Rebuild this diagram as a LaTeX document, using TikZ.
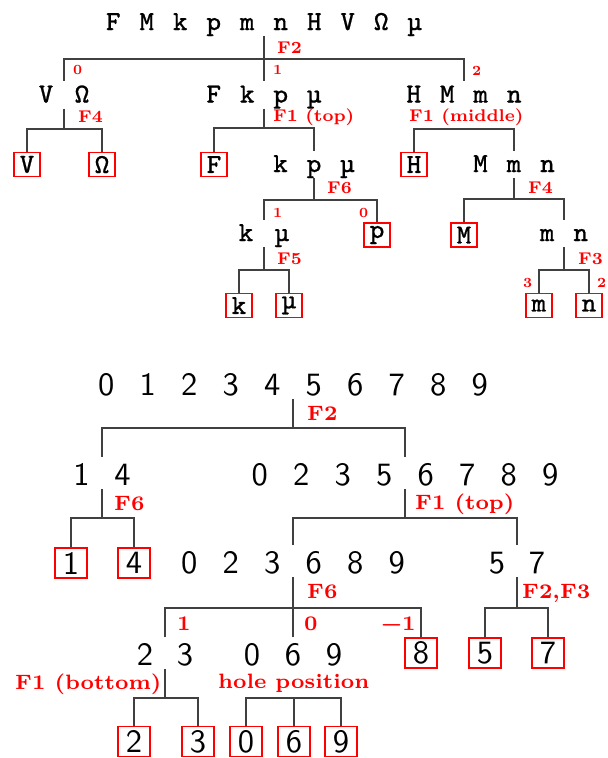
\documentclass[tikz,border=0pt]{standalone}
\usepackage{fontspec}
\newfontfamily\lbl{lmroman7-bold.otf}
\newfontfamily\ttm{lmmono8-regular.otf}[FakeBold=0.7]
\newfontfamily\ssm{lmsans10-regular.otf}
\newcommand\TC[2][33.5pt]{\makebox[#1][c]{#2}}
\newcommand\DC[2][41.5pt]{\makebox[#1][c]{#2}}
\newcommand\OM{\symbol{"2126}}
\newcommand\MU{\symbol{"00B5}}
\begin{document}
\begin{tikzpicture}[x=1pt,y=-1pt,
 rowT/.style={inner sep=0pt, anchor=base, text height=21pt, text depth=6pt, font=\ttm\fontsize{27.5}{30}\selectfont},
 rowB/.style={inner sep=0pt, anchor=base, text height=28pt, text depth=4pt, font=\ssm\fontsize{32.5}{34}\selectfont},
 leafT/.style={draw=red, line width=1.1pt, inner sep=0pt, minimum width=26pt, minimum height=24pt, font=\ttm\fontsize{27.5}{30}\selectfont},
 leafB/.style={draw=red, line width=1.1pt, inner sep=0pt, minimum width=32pt, minimum height=30pt, font=\ssm\fontsize{32.5}{34}\selectfont},
 conn/.style={draw=black!75, line width=1.3pt},
 lab/.style={text=red, inner sep=0pt, anchor=base west, font=\lbl\fontsize{17}{19}\selectfont},
 labs/.style={lab, font=\lbl\fontsize{14}{16}\selectfont},
 labB/.style={lab, font=\lbl\fontsize{20.8}{23}\selectfont},
]
\useasboundingbox (0,0) rectangle (608,758);

% ---------- top tree ----------
\node[rowT] (r) at (264,30) {\TC{F}\TC{M}\TC{k}\TC{p}\TC{m}\TC{n}\TC{H}\TC{V}\TC{\OM}\TC{\MU}};
\node[rowT] (vo) at (64,102.5) {\TC[36pt]{V}\TC[36pt]{\OM}};
\node[rowT] (fkpm) at (264,102.5) {\TC{F}\TC{k}\TC{p}\TC{\MU}};
\node[rowT] (hmmn) at (464,102.5) {\TC{H}\TC{M}\TC{m}\TC{n}};
\node[rowT] (kpm) at (314,172) {\TC{k}\TC{p}\TC{\MU}};
\node[rowT] (mmn) at (514,172) {\TC{M}\TC{m}\TC{n}};
\node[rowT] (km) at (264,241) {\TC[36pt]{k}\TC[36pt]{\MU}};
\node[rowT] (mn) at (564,241) {\TC{m}\TC{n}};

\coordinate (J0) at (264,59);
\coordinate (J1) at (64,129);
\coordinate (J2) at (264,128);
\coordinate (J3) at (464,129);
\coordinate (J4) at (314,200);
\coordinate (J5) at (514,199);
\coordinate (J6) at (264,270);
\coordinate (J7) at (564,270);

\coordinate (lVt) at (27,152.5);
\coordinate (lOt) at (102,152.5);
\coordinate (lFt) at (214,152.5);
\coordinate (lHt) at (414,152.5);
\coordinate (lpt) at (377,223);
\coordinate (lMt) at (464,223);
\coordinate (lkt) at (239,293.5);
\coordinate (lmut) at (289,293.5);
\coordinate (lmt) at (539,293.5);
\coordinate (lnt) at (589,293.5);

\draw[conn] (r.south) -- (J0) -| (vo.north);
\draw[conn] (J0) -- (fkpm.north);
\draw[conn] (J0) -| (hmmn.north);
\draw[conn] (vo.south) -- (J1) -| (lVt);
\draw[conn] (J1) -| (lOt);
\draw[conn] (fkpm.south) -- (J2) -| (lFt);
\draw[conn] (J2) -| (kpm.north);
\draw[conn] (lHt) |- (J3) -| (mmn.north);
\draw[conn] (kpm.south) -- (J4) -| (km.north);
\draw[conn] (J4) -| (lpt);
\draw[conn] (mmn.south) -- (J5) -| (lMt);
\draw[conn] (J5) -| (mn.north);
\draw[conn] (km.south) -- (J6) -| (lkt);
\draw[conn] (J6) -| (lmut);
\draw[conn] (mn.south) -- (J7) -| (lmt);
\draw[conn] (J7) -| (lnt);

\node[leafT] (lV) at (27,164.5) {V};
\node[leafT] (lO) at (102,164.5) {\OM};
\node[leafT] (lF) at (214,164.5) {F};
\node[leafT] (lH) at (414,164.5) {H};
\node[leafT] (lp) at (377,235) {p};
\node[leafT] (lM) at (464,235) {M};
\node[leafT] (lk) at (239,305.5) {k};
\node[leafT] (lmu) at (289,305.5) {\MU};
\node[leafT] (lm) at (539,305.5) {m};
\node[leafT] (ln) at (589,305.5) {n};

\node[lab] (tF2) at (277,53) {F2};
\node[labs] (te0) at (73,74.5) {0};
\node[labs] (te1) at (273,74.5) {1};
\node[labs] (te2) at (472,75.5) {2};
\node[lab] (tF4a) at (78,122) {F4};
\node[lab] (tF1t) at (273,121) {F1 (top)};
\node[lab] (tF1m) at (409,121) {F1 (middle)};
\node[lab] (tF6) at (327,193) {F6};
\node[labs] (te3) at (273,217.5) {1};
\node[labs] (te4) at (359,217.5) {0};
\node[lab] (tF4b) at (528,193) {F4};
\node[lab] (tF5) at (277,264) {F5};
\node[lab] (tF3) at (578,264) {F3};
\node[labs] (te5) at (523,287.5) {3};
\node[labs] (te6) at (597,287.5) {2};

% ---------- bottom tree ----------
\node[rowB] (R) at (293,395) {\DC{0}\DC{1}\DC{2}\DC{3}\DC{4}\DC{5}\DC{6}\DC{7}\DC{8}\DC{9}};
\node[rowB] (a14) at (102,485) {\DC[41pt]{1}\DC[41pt]{4}};
\node[rowB] (a8) at (405,485) {\DC{0}\DC{2}\DC{3}\DC{5}\DC{6}\DC{7}\DC{8}\DC{9}};
\node[rowB] (a6) at (293,573) {\DC{0}\DC{2}\DC{3}\DC{6}\DC{8}\DC{9}};
\node[rowB] (a57) at (517,573) {\DC[40pt]{5}\DC[40pt]{7}};
\node[rowB] (a23) at (165,665) {\DC[40pt]{2}\DC[40pt]{3}};
\node[rowB] (a069) at (293,665) {\DC[41pt]{0}\DC[41pt]{6}\DC[41pt]{9}};

\coordinate (K0) at (293,428);
\coordinate (K1) at (102,518);
\coordinate (K2) at (405,518);
\coordinate (K3) at (293,608);
\coordinate (K4) at (517,608);
\coordinate (K5) at (165,698);
\coordinate (K6) at (293,698);

\coordinate (b1t) at (71,548);
\coordinate (b4t) at (134,548);
\coordinate (b8t) at (421,638);
\coordinate (b5t) at (485,638);
\coordinate (b7t) at (548,638);
\coordinate (b2t) at (134,726.5);
\coordinate (b3t) at (198,726.5);
\coordinate (b0t) at (246,726.5);
\coordinate (b6t) at (294,726.5);
\coordinate (b9t) at (341,726.5);

\draw[conn] (R.south) -- (K0) -| (a14.north);
\draw[conn] (K0) -| (a8.north);
\draw[conn] (a14.south) -- (K1) -| (b1t);
\draw[conn] (K1) -| (b4t);
\draw[conn] (a8.south) -- (K2) -| (a6.north);
\draw[conn] (K2) -| (a57.north);
\draw[conn] (a6.south) -- (K3) -| (a23.north);
\draw[conn] (K3) -- (a069.north);
\draw[conn] (K3) -| (b8t);
\draw[conn] (a57.south) -- (K4) -| (b5t);
\draw[conn] (K4) -| (b7t);
\draw[conn] (a23.south) -- (K5) -| (b2t);
\draw[conn] (K5) -| (b3t);
\draw[conn] (b0t) |- (K6) -| (b9t);
\draw[conn] (K6) -| (b6t);

\node[leafB] (b1) at (71,563) {1};
\node[leafB] (b4) at (134,563) {4};
\node[leafB] (b8) at (421,653) {8};
\node[leafB] (b5) at (485,653) {5};
\node[leafB] (b7) at (548,653) {7};
\node[leafB] (b2) at (134,741.5) {2};
\node[leafB] (b3) at (198,741.5) {3};
\node[leafB] (b0) at (246,741.5) {0};
\node[leafB] (b6) at (294,741.5) {6};
\node[leafB] (b9) at (341,741.5) {9};

\node[labB] (bF2) at (307,420) {F2};
\node[labB] (bF6a) at (114,510) {F6};
\node[labB] (bF1t) at (415,509) {F1 (top)};
\node[labB] (bF6b) at (307,598) {F6};
\node[labB] (bF23) at (522,598) {F2,F3};
\node[labB] (be1) at (177,630) {1};
\node[labB] (be0) at (304,630) {0};
\node[labB] (bem) at (381,630) {−1};
\node[labB] (bF1b) at (15,689) {F1 (bottom)};
\node[labB] (bhole) at (218,688) {hole position};
\end{tikzpicture}
\end{document}
